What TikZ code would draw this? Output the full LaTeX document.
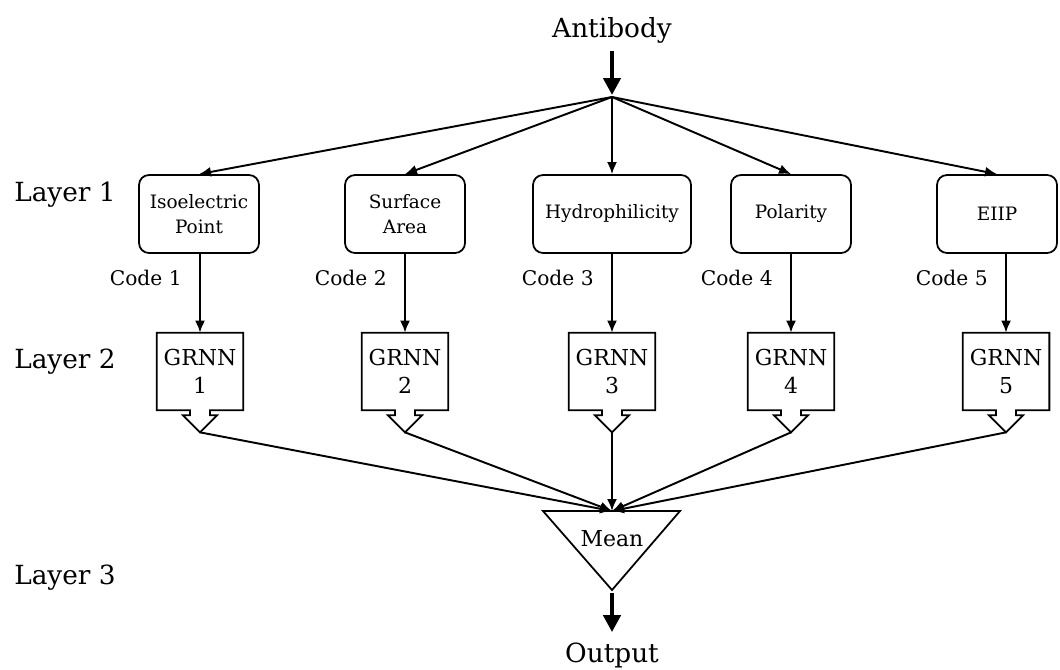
\documentclass[tikz,border=0pt]{standalone}
\usepackage{fontspec}
\setmainfont{DejaVu Serif}
\usetikzlibrary{arrows.meta}

\begin{document}
\begin{tikzpicture}[
  bigtext/.style={font=\fontsize{15}{18}\selectfont, inner sep=1mm},
  layerlabel/.style={bigtext},
  propbox/.style={draw, line width=1pt, rounded corners=2mm, align=center,
    minimum width=2.4cm, minimum height=1.56cm, inner sep=1mm,
    font=\fontsize{10.5}{14}\selectfont},
  grnnbox/.style={align=center, minimum width=1.72cm, minimum height=1.54cm,
    inner sep=0pt, font=\fontsize{12.5}{16}\selectfont},
  codelabel/.style={anchor=east, inner sep=0pt, font=\fontsize{11.5}{14}\selectfont},
  outline/.style={line width=1pt, line join=miter},
  thinarrow/.style={line width=1.1pt, -{Latex[length=2.4mm,width=2mm]}},
  thickarrow/.style={line width=2.6pt, -{Triangle[length=3.4mm,width=3.4mm]}}
]
\useasboundingbox (0,0) rectangle (21.2,13.38);

% layer labels
\node[layerlabel] (lay1) at (1.30,9.48) {Layer 1};
\node[layerlabel] (lay2) at (1.30,6.14) {Layer 2};
\node[layerlabel] (lay3) at (1.30,1.82) {Layer 3};

\node[bigtext] (antibody) at (12.24,12.78) {Antibody};
\coordinate (hub) at (12.24,11.44);

% layer 1: properties
\node[propbox] (iso) at (3.98,9.10) {Isoelectric\\Point};
\node[propbox] (surf) at (8.10,9.10) {Surface\\Area};
\node[propbox, minimum width=3.16cm] (hydro) at (12.24,9.10) {Hydrophilicity};
\node[propbox] (polar) at (15.82,9.10) {Polarity};
\node[propbox] (eiip) at (19.94,9.10) {EIIP};

% layer 2: one GRNN per property
\node[grnnbox] (g1) at (4.00,5.95) {GRNN\\1};
\node[grnnbox] (g2) at (8.10,5.95) {GRNN\\2};
\node[grnnbox] (g3) at (12.24,5.95) {GRNN\\3};
\node[grnnbox] (g4) at (15.82,5.95) {GRNN\\4};
\node[grnnbox] (g5) at (20.12,5.95) {GRNN\\5};

\node[codelabel] (c1) at (3.64,7.82) {Code 1};
\node[codelabel] (c2) at (7.74,7.82) {Code 2};
\node[codelabel] (c3) at (11.88,7.82) {Code 3};
\node[codelabel] (c4) at (15.46,7.82) {Code 4};
\node[codelabel] (c5) at (19.76,7.82) {Code 5};

% layer 3: mean
\coordinate (mtl) at (10.86,3.16);
\coordinate (mtr) at (13.60,3.16);
\coordinate (mtop) at (12.24,3.16);
\coordinate (mbot) at (12.24,1.58);
\draw[outline] (mtl) -- (mtr) -- (mbot) -- cycle;
\node[font=\fontsize{12.5}{15}\selectfont] (mean) at (12.24,2.60) {Mean};
\node[bigtext] (output) at (12.24,0.28) {Output};

\draw[thickarrow, shorten <=0.5mm, shorten >=0.4mm] (antibody) -- (hub);
\foreach \b in {iso,surf,hydro,polar,eiip}
  \draw[thinarrow] (hub) -- (\b.north);

\foreach \b/\g in {iso/g1,surf/g2,hydro/g3,polar/g4,eiip/g5}
  \draw[thinarrow] (\g.north |- \b.south) -- (\g.north);

% box outline with the arrow-shaped outlet at the bottom
\foreach \i in {1,...,5}{
  \draw[outline] (g\i.south west) -- (g\i.north west) -- (g\i.north east)
    -- (g\i.south east) -- ([xshift=2mm]g\i.south) -- ++(0,-1mm) -- ++(1.4mm,0)
    -- ([yshift=-4.4mm]g\i.south) coordinate (tip\i) -- ++(-3.4mm,3.4mm)
    -- ++(1.4mm,0) -- ++(0,1mm) -- cycle;
  \draw[thinarrow] (tip\i) -- (mtop);
}

\draw[thickarrow, shorten <=0.6mm, shorten >=1.0mm] (mbot) -- (output);
\end{tikzpicture}
\end{document}
